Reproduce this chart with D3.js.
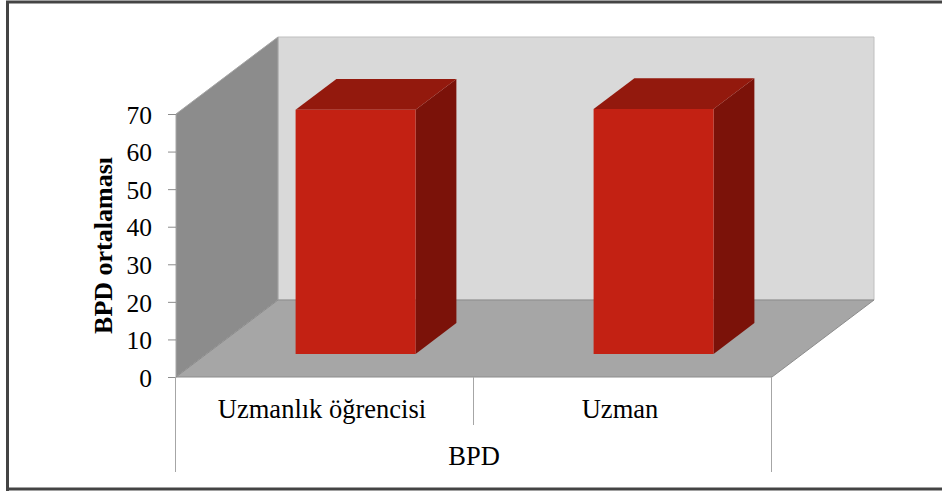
<!DOCTYPE html>
<html>
<head>
<meta charset="utf-8">
<script src="https://cdn.jsdelivr.net/npm/d3@7"></script>
<style>
	html, body { margin: 0; padding: 0; background: #fff; }
	svg { display: block; }
	text { font-family: "Liberation Serif", serif; fill: #000; }
</style>
</head>
<body>
<svg width="942" height="491"></svg>
<script>
/* global d3 */

const categories = ['Uzmanlık öğrencisi', 'Uzman'];
const values = [65, 65.2];
const yTicks = [0, 10, 20, 30, 40, 50, 60, 70];
const groupLabel = 'BPD';
const yTitle = 'BPD ortalaması';

let svg = d3.select('svg'),
	plotLeft = 176,
	plotRight = 772,
	plotBottom = 377,
	plotTop = 114,
	depthX = 102, // how far the back wall sits from the front plane
	depthY = 77,
	x = d3.scaleBand().domain(categories).range([plotLeft, plotRight]).paddingInner(0).paddingOuter(0),
	y = d3.scaleLinear().domain([0, 70]).range([plotBottom, plotTop]);

// 3d projection: d is 0 at the front plane and 1 at the back wall
function px(xval, d) {
	return xval + depthX * d;
}

function py(v, d) {
	return y(v) - depthY * d;
}

function poly(points, fill, stroke) {
	svg.append('polygon')
		.attr('points', points.map(function(p) { return px(p[0], p[2]) + ',' + py(p[1], p[2]); }).join(' '))
		.attr('fill', fill)
		.attr('stroke', stroke || 'none')
		.attr('stroke-width', stroke ? 1 : 0);
}

// frame
svg.append('path')
	.attr('d', 'M7.5,491V2H942M7.5,489H942')
	.attr('fill', 'none')
	.attr('stroke', '#444')
	.attr('stroke-width', 3);

// walls and floor
poly([[plotLeft, 70, 1], [plotRight, 70, 1], [plotRight, 0, 1], [plotLeft, 0, 1]], '#d9d9d9', '#bfbfbf');
poly([[plotLeft, 70, 0], [plotLeft, 70, 1], [plotLeft, 0, 1], [plotLeft, 0, 0]], '#8c8c8c', '#a6a6a6');
poly([[plotLeft, 0, 0], [plotLeft, 0, 1], [plotRight, 0, 1], [plotRight, 0, 0]], '#a6a6a6', '#8c8c8c');

// bars
let barWidth = 120,
	d0 = 0.3,
	d1 = 0.7;

categories.forEach(function(c, i) {
	let x0 = x(c) + (x.bandwidth() - barWidth) / 2,
		x1 = x0 + barWidth,
		v = values[i];

	poly([[x1, 0, d0], [x1, 0, d1], [x1, v, d1], [x1, v, d0]], '#7b1209');
	poly([[x0, v, d0], [x0, v, d1], [x1, v, d1], [x1, v, d0]], '#93190d');
	poly([[x0, 0, d0], [x1, 0, d0], [x1, v, d0], [x0, v, d0]], '#c32113');
});

// y axis
let yAxis = svg.append('g')
	.attr('transform', 'translate(' + plotLeft + ',0)')
	.call(d3.axisLeft(y).tickValues(yTicks).tickSize(8).tickPadding(16));

yAxis.select('.domain').remove();
yAxis.selectAll('line').attr('stroke', '#8c8c8c');
yAxis.selectAll('text')
	.style('font-family', '"Liberation Serif", serif')
	.style('font-size', '25.5px')
	.attr('dy', '0.36em')
	.attr('fill', '#000');

svg.append('text')
	.attr('transform', 'translate(111.5,245.5) rotate(-90)')
	.attr('text-anchor', 'middle')
	.style('font-size', '26px')
	.style('font-weight', 'bold')
	.text(yTitle);

// category separators
let edges = [plotLeft - 0.5, x(categories[1]) - 0.5, plotRight - 0.5];

svg.selectAll('line.sep')
	.data(edges)
	.enter().append('line')
		.attr('class', 'sep')
		.attr('x1', function(d) { return d; })
		.attr('x2', function(d) { return d; })
		.attr('y1', plotBottom)
		.attr('y2', function(d, i) { return i === 1 ? 425 : 472; })
		.attr('stroke', '#a6a6a6');

svg.selectAll('text.cat')
	.data(categories)
	.enter().append('text')
		.attr('class', 'cat')
		.attr('x', function(d) { return x(d) + x.bandwidth() / 2 - 3; })
		.attr('y', 418)
		.attr('text-anchor', 'middle')
		.style('font-size', '26.5px')
		.text(function(d) { return d; });

svg.append('text')
	.attr('x', (plotLeft + plotRight) / 2)
	.attr('y', 465)
	.attr('text-anchor', 'middle')
	.style('font-size', '26.5px')
	.text(groupLabel);
</script>
</body>
</html>
